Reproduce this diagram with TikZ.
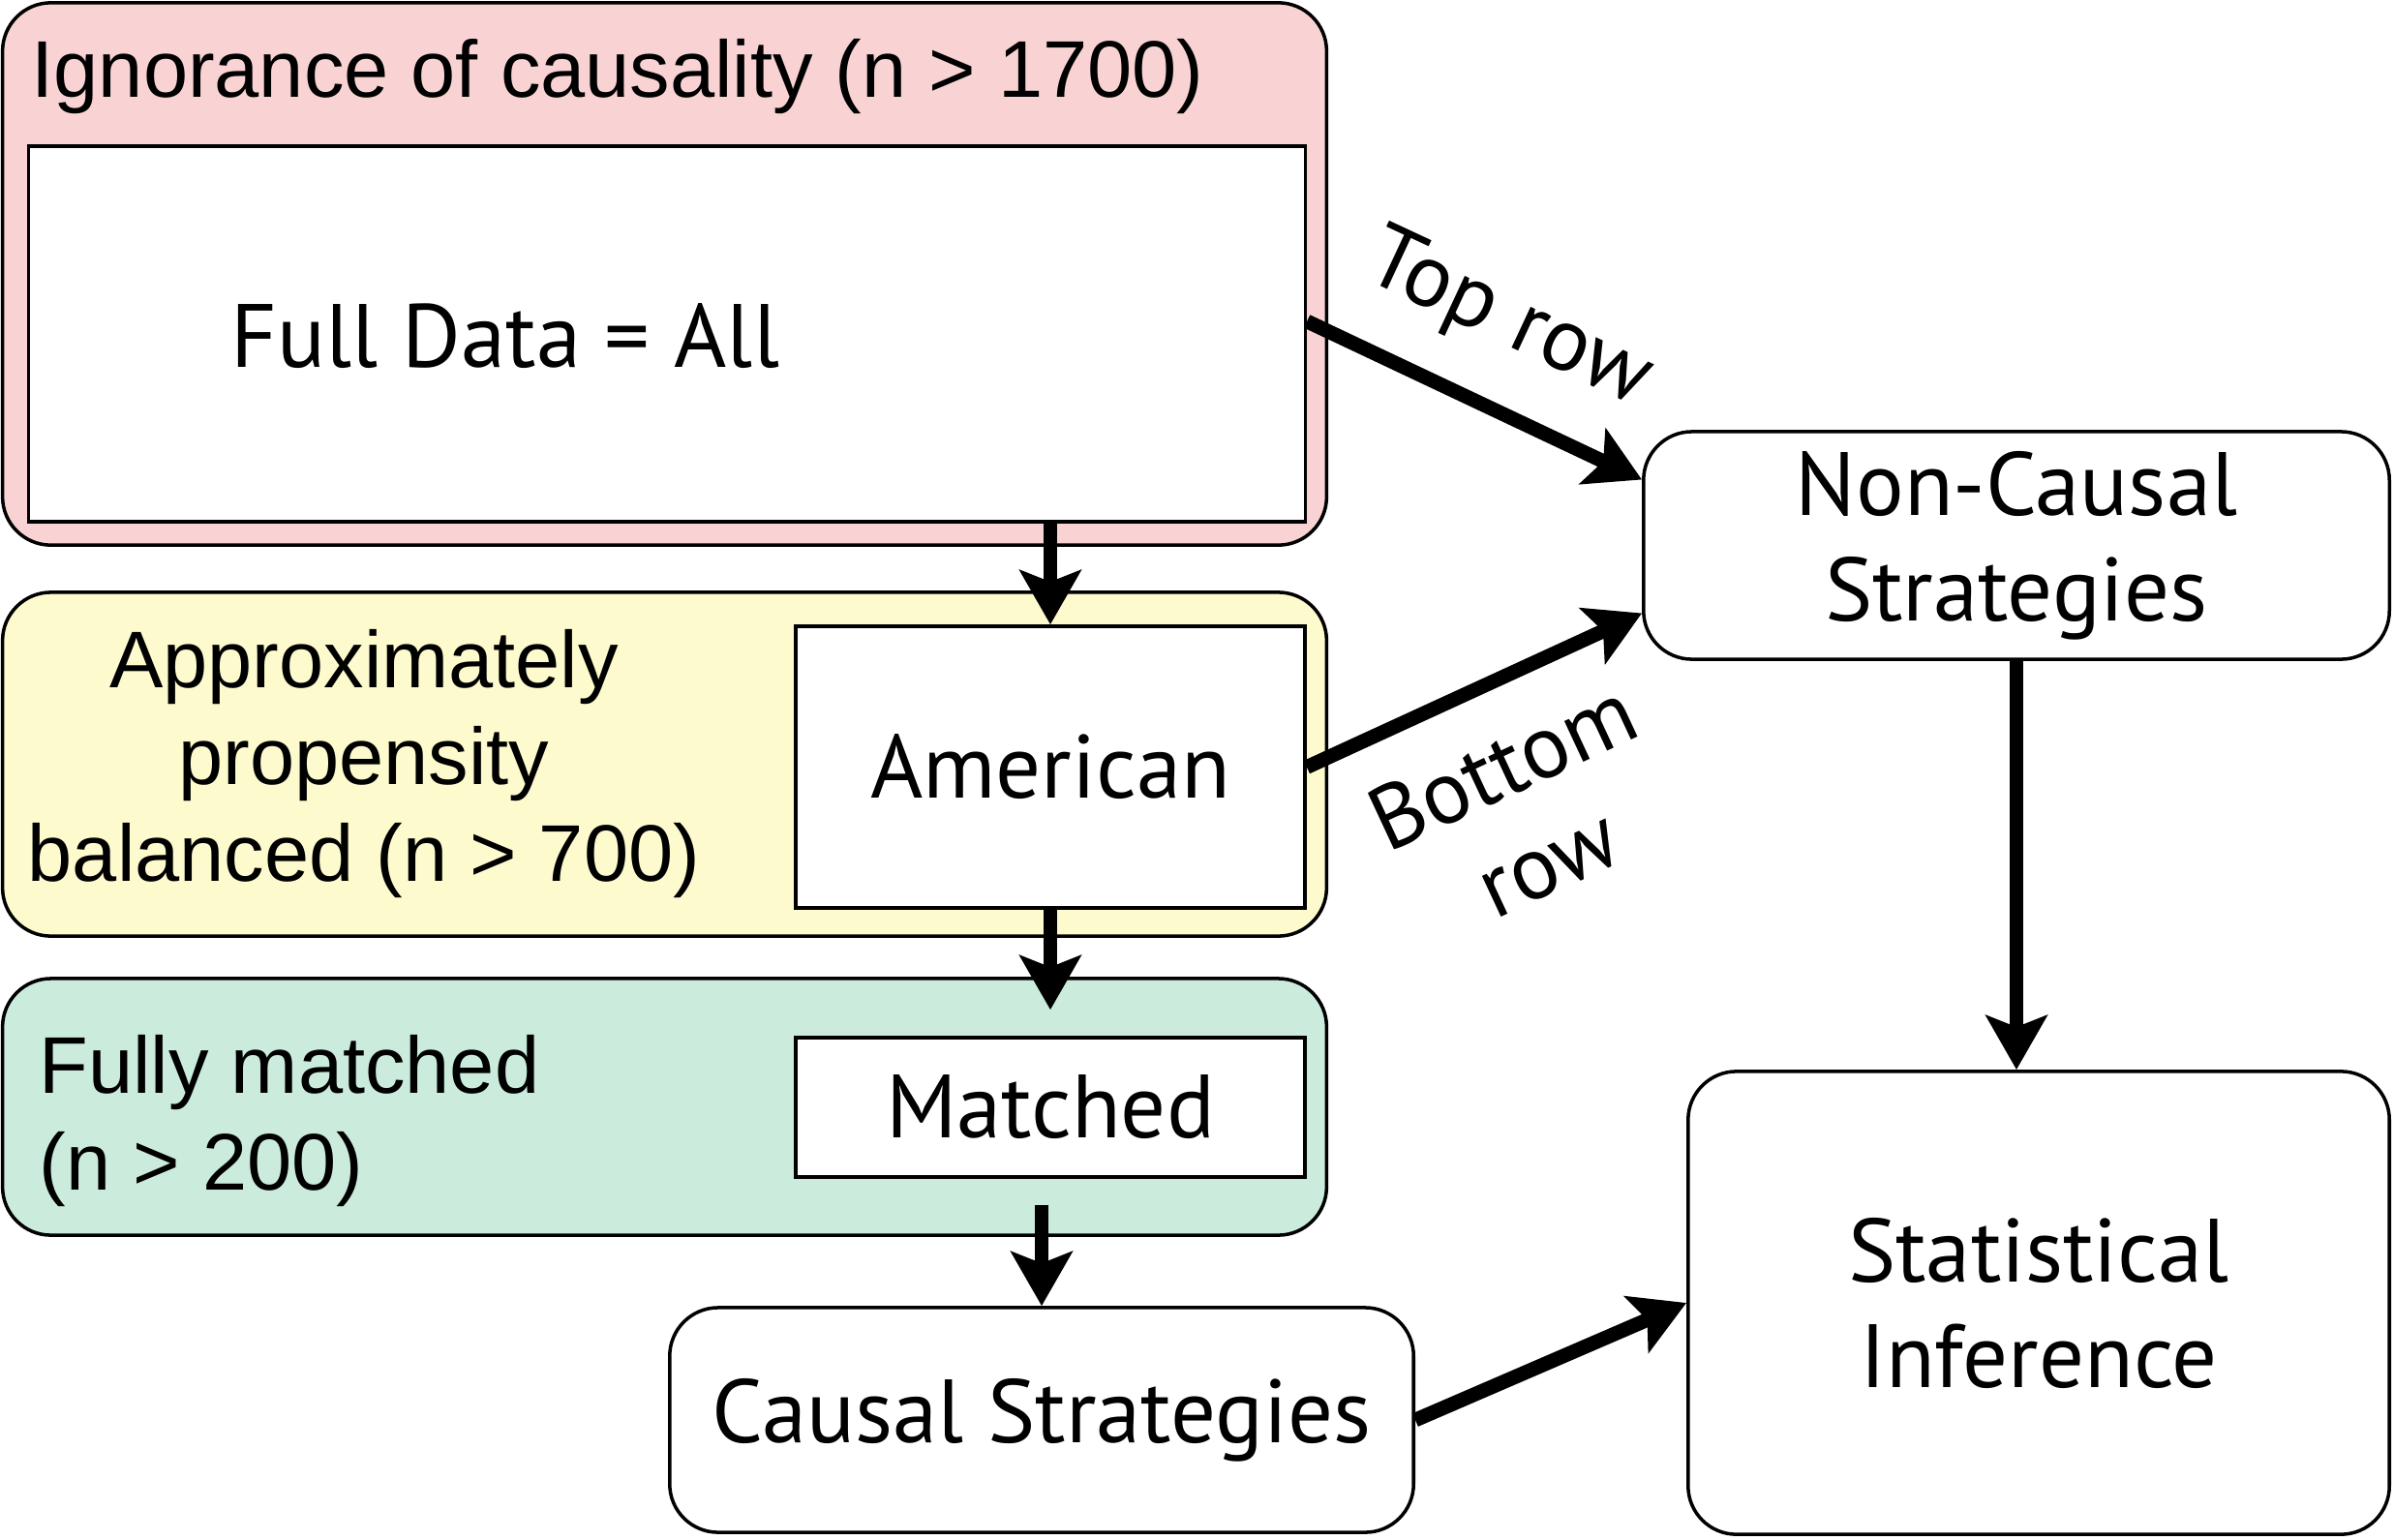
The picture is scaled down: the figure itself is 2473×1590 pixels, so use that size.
\documentclass[tikz,border=0pt]{standalone}
\usepackage{fontspec}
\setmainfont{PT Sans}
\newfontfamily\helv{Liberation Sans}
\usepackage{xcolor}
\usepackage{tikz}
\usetikzlibrary{arrows.meta,positioning,calc}

\definecolor{ignpink}{RGB}{249,211,212}
\definecolor{balyellow}{RGB}{253,251,206}
\definecolor{matgreen}{RGB}{203,236,220}

\begin{document}
\begin{tikzpicture}[
    x=0.01cm, y=-0.01cm,
    font=\fontsize{26.4}{31}\selectfont,
    group/.style={draw, line width=1pt, rounded corners=0.5cm, minimum width=13.67cm},
    inbox/.style={draw, line width=1pt, fill=white, minimum width=5.26cm},
    stage/.style={draw, line width=1pt, rounded corners=0.5cm, align=center},
    note/.style={inner sep=0pt, font=\helv\fontsize{23.6}{28.5}\selectfont},
    tag/.style={inner sep=0pt},
    flow/.style={-{Stealth[length=5.6mm, width=6.3mm, inset=1.2mm]}, line width=4.2pt}
  ]
    \useasboundingbox (0,0) rectangle (2473,1590);

    % Sample groups
    \node[group, fill=ignpink, minimum height=5.60cm] (ign) at (686.5,283) {};
    \node[group, fill=balyellow, minimum height=3.55cm] (bal) at (686.5,789.5) {};
    \node[group, fill=matgreen, minimum height=2.65cm] (fm) at (686.5,1143.5) {};

    % Data subsets
    \node[inbox, minimum width=13.18cm, minimum height=3.88cm] (full) at (689,345) {};
    \node[inbox, minimum height=2.91cm] (american) at (1085,792.5) {American};
    \node[inbox, minimum height=1.44cm] (matched) at (1085,1144) {Matched};

    % Group labels
    \node[note, anchor=base west] (ignlbl) at (32,100) {Ignorance of causality (n > 1700)};
    \node[tag] (fulllbl) at (522,347) {Full Data = All};
    \node[note, align=center] (ballbl) at (376,789) {Approximately\\propensity\\balanced (n > 700)};
    \node[note, align=left, anchor=west] (fmlbl) at (40,1158) {Fully matched\\(n > 200)};

    % Strategies
    \node[stage, minimum width=7.68cm, minimum height=2.32cm] (causal) at (1076,1467) {Causal Strategies};
    \node[stage, minimum width=7.70cm, minimum height=2.35cm] (ncs) at (2083,563.5) {Non-Causal\\Strategies};
    \node[stage, minimum width=7.24cm, minimum height=4.78cm] (stat) at (2106,1346) {Statistical\\Inference};

    % Arrows
    \draw[flow] (full.south -| american.north) -- (american.north);
    \draw[flow, shorten >=0.27cm] (american.south) -- (matched.north);
    \draw[flow, shorten <=0.27cm] (matched.south -| causal.north) -- (causal.north);
    \draw[flow] ([yshift=0.13cm]full.east) -- ([yshift=0.68cm]ncs.west);
    \draw[flow] (american.east) -- ([yshift=-0.7cm]ncs.west);
    \draw[flow] (ncs.south) -- (ncs.south |- stat.north);
    \draw[flow] (causal.east) -- (stat.west);

    % Row labels
    \node[tag, rotate=-25] (toplbl) at (1558,332) {Top row};
    \node[tag, rotate=25, align=center] (botlbl) at (1575,840) {Bottom\\row};
  \end{tikzpicture}
\end{document}
